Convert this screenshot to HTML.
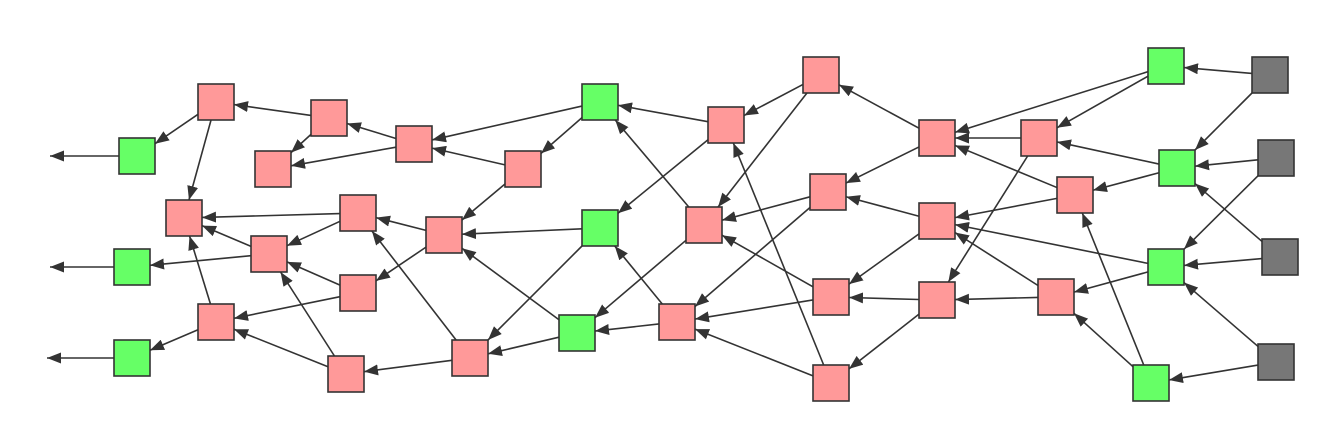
<!DOCTYPE html>
<html><head><meta charset="utf-8"><style>
html,body{margin:0;padding:0;background:#fff;width:1330px;height:434px;overflow:hidden}
</style></head><body>
<svg id="s" width="1330" height="434" xmlns="http://www.w3.org/2000/svg">
<defs><marker id="a" markerWidth="14" markerHeight="11" refX="14" refY="5.5" orient="auto" markerUnits="userSpaceOnUse"><path d="M0,0 L14,5.5 L0,11 z" fill="#333"/></marker></defs>
<g id="e"></g><g id="n"></g>
</svg>
<script>
var N={G1:[137,156,'g'],G2:[132,267,'g'],G3:[132,358,'g'],G4:[600,102,'g'],G5:[600,228,'g'],G6:[577,333,'g'],G7:[1166,66,'g'],G8:[1177,168,'g'],G9:[1166,267,'g'],G10:[1151,383,'g'],
K1:[1270,75,'k'],K2:[1276,158,'k'],K3:[1280,257,'k'],K4:[1276,362,'k'],
P1:[216,102],P2:[329,118],P3:[273,169],P4:[414,144],P5:[523,169],P6:[184,218],P7:[358,213],P8:[269,254],P9:[444,235],P10:[358,293],P11:[216,322],P12:[346,374],P13:[470,358],P14:[726,125],P15:[821,75],P16:[704,225],P17:[828,192],P18:[677,322],P19:[831,297],P20:[831,383],P21:[937,138],P22:[1039,138],P23:[937,221],P24:[1075,195],P25:[937,300],P26:[1056,297],
L1:[50,156,'x'],L2:[50,267,'x'],L3:[47,358,'x']};
var E="G1 L1,G2 L2,G3 L3,P1 G1,P1 P6,P2 P1,P2 P3,P4 P2,P4 P3,G4 P4,P5 P4,G4 P5,P5 P9,P14 G4,P14 G5,P15 P14,P15 P16,G5 P9,G5 P13,P7 P6,P7 P8,P9 P7,P9 P10,P8 P6,P8 G2,P10 P8,P10 P11,P11 G3,P11 P6,P12 P11,P12 P8,P13 P12,P13 P7,G6 P13,G6 P9,P16 G6,P18 G6,P18 G5,P16 G4,P20 P14,P17 P16,P17 P18,P19 P16,P19 P18,P20 P18,P21 P15,P21 P17,P23 P17,P23 P19,P25 P19,P25 P20,P22 P21,P22 P25,P24 P21,P24 P23,G7 P21,G7 P22,G8 P22,G8 P24,G9 P23,G9 P26,P26 P23,P26 P25,G10 P24,G10 P26,K1 G7,K1 G8,K2 G8,K2 G9,K3 G9,K3 G8,K4 G9,K4 G10".split(',');
var ns="http://www.w3.org/2000/svg",H=18;
function clip(c,dx,dy){if(c[2]=='x')return[c[0],c[1]];var t=Math.min(Math.abs(dx)>0?H/Math.abs(dx):1e9,Math.abs(dy)>0?H/Math.abs(dy):1e9);return[c[0]+dx*t,c[1]+dy*t];}
var eg=document.getElementById('e'),ng=document.getElementById('n');
E.forEach(function(s){var p=s.split(' '),a=N[p[0]],b=N[p[1]],dx=b[0]-a[0],dy=b[1]-a[1];
var s1=clip(a,dx,dy),s2=clip(b,-dx,-dy);var l=document.createElementNS(ns,'line');
l.setAttribute('x1',s1[0]);l.setAttribute('y1',s1[1]);l.setAttribute('x2',s2[0]);l.setAttribute('y2',s2[1]);
l.setAttribute('stroke','#333');l.setAttribute('stroke-width','1.6');l.setAttribute('marker-end','url(#a)');eg.appendChild(l);});
for(var k in N){var c=N[k];if(c[2]=='x')continue;var r=document.createElementNS(ns,'rect');
r.setAttribute('x',c[0]-H);r.setAttribute('y',c[1]-H);r.setAttribute('width',36);r.setAttribute('height',36);
r.setAttribute('fill',c[2]=='g'?'#66ff66':c[2]=='k'?'#777777':'#ff9999');r.setAttribute('stroke','#333');r.setAttribute('stroke-width','1.6');ng.appendChild(r);}
</script>
</body></html>
